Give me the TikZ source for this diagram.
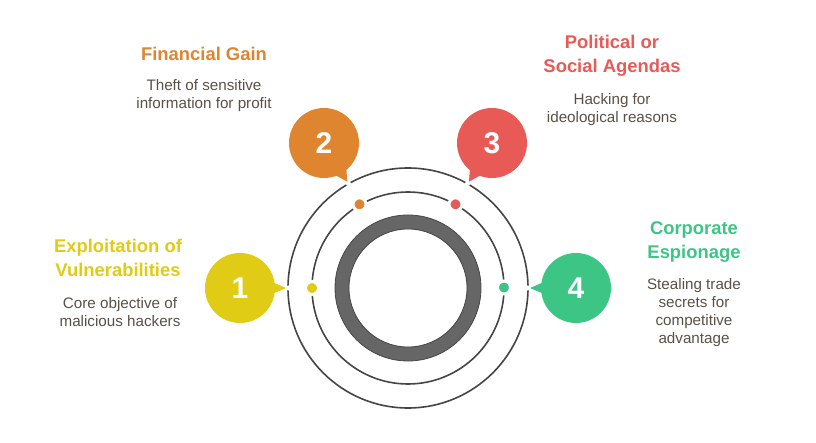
\documentclass[tikz,border=0pt]{standalone}
\usepackage{fontspec}
\setmainfont{Liberation Sans}
\definecolor{cyel}{HTML}{E0CB15}
\definecolor{cora}{HTML}{DF852F}
\definecolor{cred}{HTML}{E85A56}
\definecolor{cgre}{HTML}{3DC585}
\definecolor{ring}{HTML}{666666}
\definecolor{rline}{HTML}{454545}
\definecolor{body}{HTML}{5A5046}
\tikzset{
  bubble/.style={circle,fill=#1,minimum size=70pt,inner sep=0pt,text=white,font=\bfseries\fontsize{30}{30}\selectfont},
  tail/.style={fill=#1,draw=none},
  dot/.style={circle,fill=#1,draw=white,line width=3pt,minimum size=13pt,inner sep=0pt},
  heading/.style={align=center,text=#1,font=\bfseries\fontsize{18.4}{24}\selectfont},
  desc/.style={align=center,text=body,font=\fontsize{15.2}{18}\selectfont},
  orbit/.style={draw=rline,line width=1.6pt,fill=none}
}
\begin{document}
\begin{tikzpicture}[x=1pt,y=-1pt]
\useasboundingbox (0,0) rectangle (816,443);
\coordinate (c) at (408,288);
\draw[orbit] (c) circle[radius=120];
\draw[orbit] (c) circle[radius=96];
\draw[draw=rline,line width=0.8pt,fill=ring,even odd rule] (c) circle[radius=73] (c) circle[radius=59];
\coordinate (t1) at (286,288);
\coordinate (t2) at (347.3,181.7);
\coordinate (t3) at (469,181.7);
\coordinate (t4) at (530,288);
\fill[white] (288.2,288) circle[radius=2.6];
\fill[white] (348.4,183.5) circle[radius=2.6];
\fill[white] (467.6,183.5) circle[radius=2.6];
\fill[white] (527.8,288) circle[radius=2.6];
\fill[tail=cyel] (t1) -- (272,282) -- (272,294) -- cycle;
\fill[tail=cora] (t2) -- (346.3,168) -- (336,175.5) -- cycle;
\fill[tail=cred] (t3) -- (470,168) -- (480,175.5) -- cycle;
\fill[tail=cgre] (t4) -- (544,282) -- (544,294) -- cycle;
\node[bubble=cyel] (b1) at (240,288) {1};
\node[bubble=cora] (b2) at (324,143) {2};
\node[bubble=cred] (b3) at (492,143) {3};
\node[bubble=cgre] (b4) at (576,288) {4};
\node[dot=cyel] (d1) at (312,288) {};
\node[dot=cora] (d2) at (359.5,204.3) {};
\node[dot=cred] (d3) at (455.5,204.3) {};
\node[dot=cgre] (d4) at (504,287.5) {};
\node[heading=cyel] (h1) at (118,258) {Exploitation of\\Vulnerabilities};
\node[desc] (p1) at (120,312.5) {Core objective of\\malicious hackers};
\node[heading=cora] (h2) at (204,54) {Financial Gain};
\node[desc] (p2) at (204,96) {Theft of sensitive\\information for profit};
\node[heading=cred] (h3) at (612,56) {Political or\\Social Agendas};
\node[desc] (p3) at (612,109.5) {Hacking for\\ideological reasons};
\node[heading=cgre] (h4) at (694,242) {Corporate\\Espionage};
\node[desc] (p4) at (694,313) {Stealing trade\\secrets for\\competitive\\advantage};
\end{tikzpicture}
\end{document}
